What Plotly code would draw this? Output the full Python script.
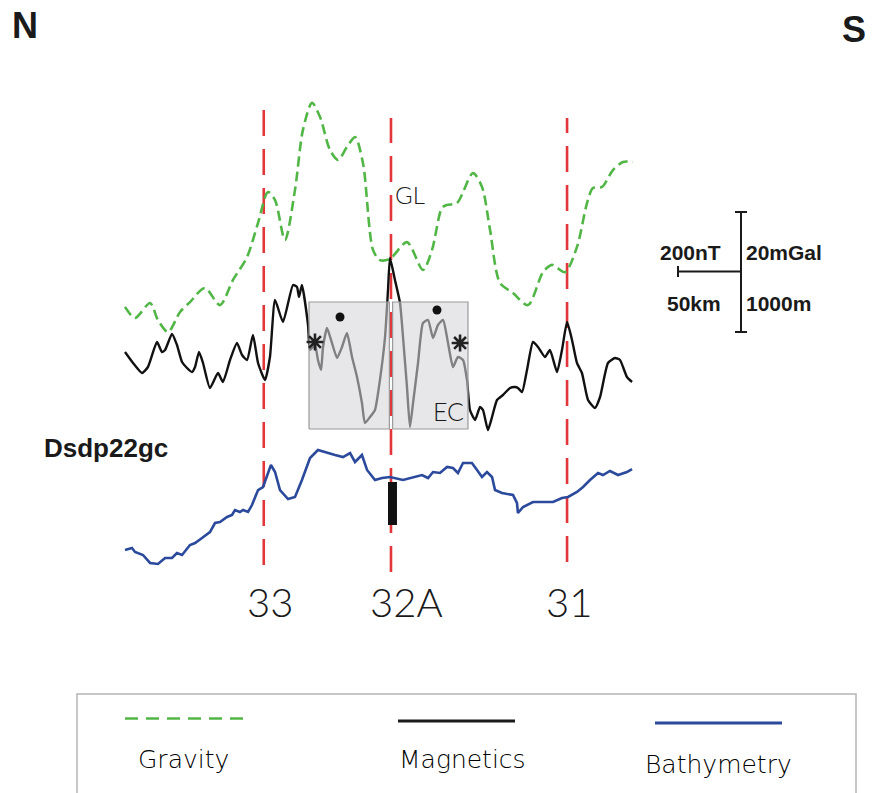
import plotly.graph_objects as go

# ---------------------------------------------------------------------------
# Profile Dsdp22gc, N -> S.  Distance along profile in km.
# ---------------------------------------------------------------------------

# Free-air gravity anomaly (mGal)
grav_km = [0, 8.1, 20.2, 26.6, 34.7, 44.4, 52.4, 64.5, 76.6, 87.1, 98.4, 107.3,
           115.3, 121.0, 129.0, 137.1, 143.5, 150.8, 157.3, 165.3, 171.8, 179.0,
           185.5, 191.9, 200.0, 205.6, 213.7, 227.4, 240.3, 247.6, 255.6, 259.7,
           267.7, 280.6, 287.9, 294.4, 302.4, 312.9, 325.0, 337.1, 344.4, 354.8,
           364.5, 372.6, 377.4, 384.7, 393.5, 401.6, 409.7]
grav_mgal = [7.7, 4.0, 9.0, 3.3, -0.7, 6.0, 9.3, 14.0, 8.3, 16.7, 24.3, 35.7,
             46.0, 43.3, 30.0, 46.7, 66.7, 75.7, 71.0, 60.0, 56.7, 61.0,
             64.3, 55.7, 26.7, 23.3, 23.7, 29.3, 20.0, 26.7, 40.7, 41.7,
             42.3, 52.3, 47.7, 33.3, 15.7, 12.3, 8.3, 19.3, 21.7, 19.3,
             27.7, 42.3, 47.3, 47.7, 53.3, 56.0, 56.0]

# Magnetic anomaly (nT)
mag_km = [0, 6.5, 13.7, 18.5, 25.8, 29.8, 32.3, 37.9, 41.9, 46.0, 50.0, 54.0,
          56.5, 59.7, 62.9, 68.5, 75.0, 79.0, 84.7, 90.3, 94.4, 98.4, 103.2,
          107.3, 112.9, 116.9, 121.0, 127.4, 135.5, 138.7, 140.3, 142.7, 147.6,
          149.2, 153.2, 155.6, 158.1, 159.7, 162.9, 166.9, 171.0, 175.0, 179.0,
          183.1, 187.1, 191.1, 193.5, 197.6, 201.6, 205.6, 209.7, 212.1, 213.7,
          217.7, 221.8, 224.2, 227.4, 229.8, 232.3, 236.3, 240.3, 244.4, 248.4,
          252.4, 256.5, 260.5, 264.5, 268.5, 272.6, 275.8, 278.2, 282.3, 286.3,
          288.7, 292.7, 296.0, 300.0, 304.8, 310.5, 314.5, 316.9, 320.2, 324.2,
          329.0, 333.1, 338.7, 342.7, 348.4, 352.4, 356.5, 360.5, 364.5, 368.5,
          373.4, 379.0, 383.1, 389.5, 395.2, 399.2, 404.8, 408.9]
mag_nt = [26.7, -10, -43.3, -23.3, 60, 26.7, 33.3, 86.7, 50, -6.7, -26.7, -40,
          -23.3, 26.7, -10, -93.3, -43.3, -73.3, 0, 56.7, 16.7, 0, 83.3,
          -10, -66.7, 10, 200, 126.7, 250, 243.3, 210, 250, 116.7,
          33.3, 50, 0, -33.3, 43.3, 106.7, 56.7, 6.7, 43.3, 90,
          10, -56.7, -143.3, -210, -190, -166.7, -66.7, 76.7, 233.3, 340,
          266.7, 190, 76.7, -90, -223.3, -143.3, -10, 123.3, 133.3, 73.3,
          116.7, 133.3, 56.7, -23.3, 10, 0, -66.7, -166.7, -200, -156.7,
          -166.7, -233.3, -190, -133.3, -116.7, -93.3, -90, -93.3, -106.7, -33.3,
          60, 43.3, 10, 33.3, -40, 33.3, 126.7, 66.7, -10, -43.3,
          -133.3, -160, -123.3, -10, 6.7, 0, -56.7, -73.3]

# Bathymetry (m, negative below sea level)
bath_km = [0, 5.6, 8.1, 14.5, 20.2, 26.6, 32.3, 37.9, 41.9, 46.0, 52.4, 56.5,
           62.1, 68.5, 72.6, 76.6, 82.3, 86.3, 88.7, 92.7, 95.2, 99.2, 102.4,
           107.3, 111.3, 114.5, 117.7, 121.0, 125.0, 131.5, 137.1, 142.7, 149.2,
           155.6, 162.9, 169.4, 175.8, 181.5, 185.5, 191.1, 195.2, 201.6, 207.3,
           213.7, 224.2, 232.3, 239.5, 244.4, 248.4, 254.0, 259.7, 264.5, 268.5,
           272.6, 279.8, 283.9, 287.9, 291.9, 296.0, 298.4, 304.0, 312.9, 316.1,
           316.9, 321.0, 329.0, 337.1, 345.2, 352.4, 357.3, 364.5, 369.4, 375.0,
           381.5, 385.5, 391.1, 397.6, 404.8, 408.9]
bath_m = [-5667, -5633, -5700, -5750, -5883, -5900, -5800, -5800, -5717, -5750,
          -5583, -5550, -5467, -5367, -5217, -5200, -5117, -5083, -5000, -5033,
          -5000, -5033, -4917, -4667, -4617, -4450, -4250, -4367, -4667, -4817,
          -4783, -4500, -4133, -4000, -4050, -4083, -4117, -4050, -4200, -4083,
          -4333, -4500, -4467, -4450, -4500, -4450, -4417, -4467, -4367, -4383,
          -4283, -4300, -4383, -4217, -4217, -4333, -4450, -4367, -4450, -4667,
          -4717, -4750, -4883, -5050, -4950, -4867, -4867, -4867, -4800, -4783,
          -4700, -4617, -4500, -4383, -4417, -4350, -4417, -4367, -4317]

# Magnetic isochrons picked on the profile (km)
isochron_names = ["33", "32A", "31"]
isochron_km = [111.9, 214.5, 356.5]

# Extinct-centre (EC) windows on the magnetic profile (km)
ec_windows_km = [(148.4, 213.2), (215.8, 276.6)]
ec_window_nt = (-230, 193.3)

# Symmetric features picked on the magnetics
star_km = [153.2, 270.2]
star_nt = [60, 56.7]
dot_km = [173.4, 251.6]
dot_nt = [143.3, 166.7]

# DSDP site 22 core (km, m)
site_km = 215.7
site_top_m, site_bot_m = -4533, -5250

# ---------------------------------------------------------------------------
W, H = 872, 793
X_RANGE = [-125 / 1.24, (W - 125) / 1.24]       # 1.24 px per km
G_RANGE = [(330 - H) / 3, 330 / 3]               # 3 px per mGal
M_RANGE = [(360 - H) * 10 / 3, 360 * 10 / 3]     # 0.3 px per nT
B_RANGE = [-(4000 + (H - 450) * 50 / 3), -(4000 - 450 * 50 / 3)]  # 0.06 px per m


def px(x):
    return x / W


def py(y):
    return 1 - y / H


RED = "#e2373a"
GREEN = "#52b647"
NAVY = "#2c4a9c"
THIN = dict(family="Lato, 'Open Sans', sans-serif", weight=300, color="#1a1a1a")
KEY = dict(family="'DejaVu Sans', sans-serif", weight=300, color="#000")
BOLD = dict(family="Liberation Sans, Arial, sans-serif", weight="bold", color="#1a1a1a")

fig = go.Figure()

fig.add_trace(go.Scatter(
    x=grav_km, y=grav_mgal, mode="lines", yaxis="y",
    line=dict(color=GREEN, width=2.6, dash="10px,5px", shape="spline", smoothing=0.8),
    hoverinfo="skip"))

fig.add_trace(go.Scatter(
    x=mag_km, y=mag_nt, mode="lines", yaxis="y2",
    line=dict(color="#111111", width=2.4, shape="spline", smoothing=0.5),
    hoverinfo="skip"))

# translucent EC windows laid over the magnetics
for a, b in ec_windows_km:
    lo, hi = ec_window_nt
    fig.add_trace(go.Scatter(
        x=[a, b, b, a, a], y=[lo, lo, hi, hi, lo], mode="lines", yaxis="y2",
        fill="toself", fillcolor="rgba(212,212,218,0.57)",
        line=dict(color="#9a9a9a", width=1.2), hoverinfo="skip"))

fig.add_trace(go.Scatter(
    x=star_km, y=star_nt, mode="markers", yaxis="y2",
    marker=dict(symbol="asterisk-open", size=14, color="#222",
                line=dict(color="#222", width=2.6)),
    hoverinfo="skip"))
fig.add_trace(go.Scatter(
    x=dot_km, y=dot_nt, mode="markers", yaxis="y2",
    marker=dict(symbol="circle", size=9, color="#111"), hoverinfo="skip"))

fig.add_trace(go.Scatter(
    x=bath_km, y=bath_m, mode="lines", yaxis="y3",
    line=dict(color=NAVY, width=2.6), hoverinfo="skip"))

fig.add_trace(go.Scatter(
    x=[site_km, site_km], y=[site_top_m, site_bot_m], mode="lines", yaxis="y3",
    line=dict(color="#111", width=9), hoverinfo="skip"))

shapes = []
# isochron picks
iso_span = {"33": (98, 565), "32A": (118, 572), "31": (118, 562)}
for name, km in zip(isochron_names, isochron_km):
    top, bot = iso_span[name]
    shapes.append(dict(type="line", xref="x", yref="paper", x0=km, x1=km,
                       y0=py(bot), y1=py(top), layer="below",
                       line=dict(color=RED, width=2.6, dash="26px,13px")))

# scale bar
SB = dict(color="#1a1a1a", width=2)
shapes += [
    dict(type="line", xref="paper", yref="paper", x0=px(741), x1=px(741), y0=py(212), y1=py(332), line=SB),
    dict(type="line", xref="paper", yref="paper", x0=px(735), x1=px(747), y0=py(212), y1=py(212), line=SB),
    dict(type="line", xref="paper", yref="paper", x0=px(735), x1=px(747), y0=py(332), y1=py(332), line=SB),
    dict(type="line", xref="paper", yref="paper", x0=px(678), x1=px(741), y0=py(271.5), y1=py(271.5), line=SB),
    dict(type="line", xref="paper", yref="paper", x0=px(678), x1=px(678), y0=py(266), y1=py(277), line=SB),
]

# legend frame and keys
shapes += [
    dict(type="rect", xref="paper", yref="paper", x0=px(77), x1=px(856), y0=py(796), y1=py(694),
         line=dict(color="#b5b5b5", width=1.5)),
    dict(type="line", xref="paper", yref="paper", x0=px(125), x1=px(245), y0=py(718.5), y1=py(718.5),
         line=dict(color=GREEN, width=2.6, dash="13px,8px")),
    dict(type="line", xref="paper", yref="paper", x0=px(398), x1=px(515), y0=py(721), y1=py(721),
         line=dict(color="#1a1a1a", width=2.8)),
    dict(type="line", xref="paper", yref="paper", x0=px(655), x1=px(782), y0=py(723), y1=py(723),
         line=dict(color=NAVY, width=2.8)),
]

annotations = []


def label(text, x, y, size, font, anchor="center"):
    annotations.append(dict(text=text, xref="paper", yref="paper", x=px(x), y=py(y),
                            xanchor=anchor, yanchor="middle", showarrow=False,
                            font=dict(size=size, **font)))


label("N", 25, 25, 36, BOLD)
label("S", 854, 30, 36, BOLD)
label("Dsdp22gc", 42, 448, 26, BOLD, "left")
label("GL", 410, 194, 24, THIN)
label("EC", 448, 411, 25, THIN)

label_x = {"33": 269.5, "32A": 406, "31": 569}
for name in isochron_names:
    label(name, label_x[name], 602, 40, THIN)

label("200nT", 723, 252, 21, BOLD, "right")
label("50km", 723, 304, 21, BOLD, "right")
label("20mGal", 744, 252, 21, BOLD, "left")
label("1000m", 744, 304, 21, BOLD, "left")

label("Gravity", 183, 759, 25, KEY)
label("Magnetics", 463, 759, 25, KEY)
label("Bathymetry", 718, 764, 25, KEY)

hidden = dict(visible=False, showgrid=False, zeroline=False, fixedrange=True)
fig.update_layout(
    width=W, height=H,
    margin=dict(l=0, r=0, t=0, b=0, pad=0),
    paper_bgcolor="white", plot_bgcolor="white",
    showlegend=False,
    xaxis=dict(range=X_RANGE, domain=[0, 1], **hidden),
    yaxis=dict(range=G_RANGE, domain=[0, 1], **hidden),
    yaxis2=dict(range=M_RANGE, overlaying="y", **hidden),
    yaxis3=dict(range=B_RANGE, overlaying="y", **hidden),
    shapes=shapes,
    annotations=annotations,
)

fig.write_html("out.html")
